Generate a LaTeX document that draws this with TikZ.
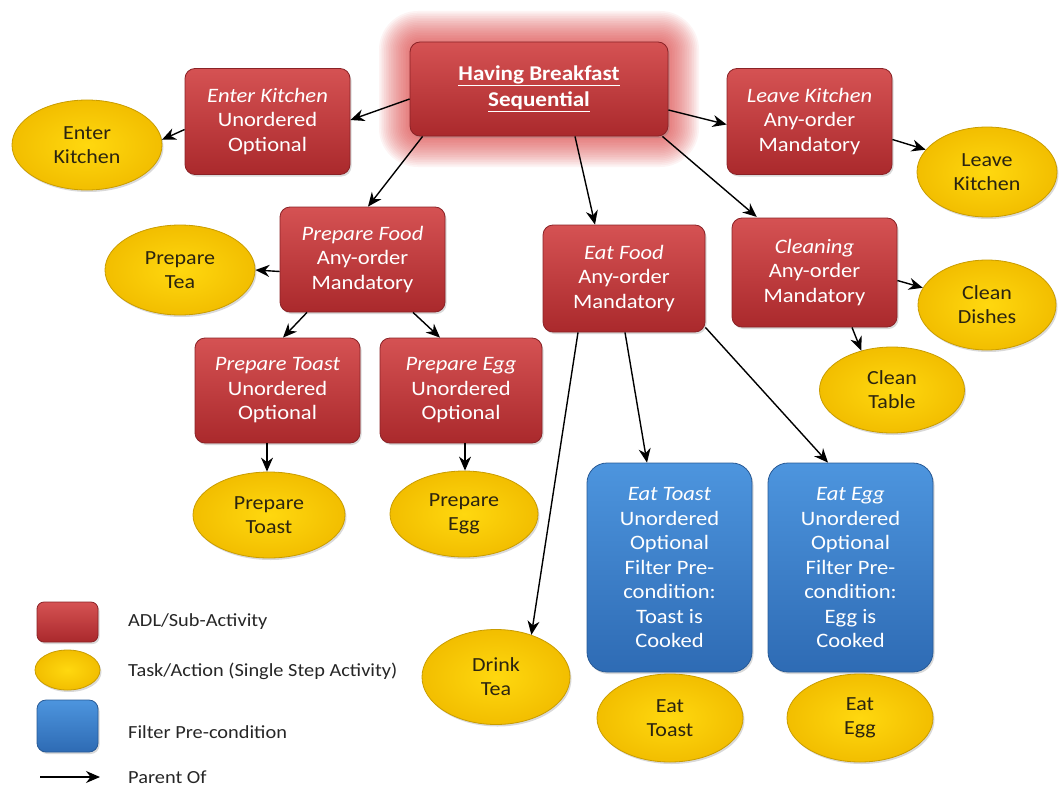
\documentclass[tikz,border=0pt]{standalone}
\usepackage{fontspec}
\setmainfont{Carlito}[FakeStretch=1.1]
\usetikzlibrary{arrows.meta,shapes.geometric,shadows,backgrounds}

\definecolor{adltop}{HTML}{D55253}
\definecolor{adlbot}{HTML}{AA292C}
\definecolor{adledge}{HTML}{8A2226}
\definecolor{tasktop}{HTML}{FFD80F}
\definecolor{taskbot}{HTML}{F2BE00}
\definecolor{taskedge}{HTML}{C99C00}
\definecolor{filtertop}{HTML}{4D95DE}
\definecolor{filterbot}{HTML}{2E6BB4}
\definecolor{filteredge}{HTML}{285A96}
\definecolor{glowred}{HTML}{D83A3A}
\definecolor{tasktext}{HTML}{2B2410}

\begin{document}
\begin{tikzpicture}[x=1pt,y=-1pt,
  every node/.style={font=\fontsize{20}{24}\selectfont, align=center, inner sep=0pt},
  boxfont/.style={font=\fontsize{20.5}{24.5}\selectfont},
  softshadow/.style={drop shadow={shadow xshift=1.5pt, shadow yshift=-2pt, opacity=0.3}},
  adl/.style={rectangle, rounded corners=10pt, minimum width=165pt, minimum height=106pt,
    top color=adltop, bottom color=adlbot, draw=adledge, line width=0.8pt,
    text=white, boxfont, softshadow},
  task/.style={ellipse, minimum width=148pt, minimum height=88pt,
    inner color=tasktop, outer color=taskbot, draw=taskedge, line width=0.8pt,
    text=tasktext, softshadow},
  filter/.style={rectangle, rounded corners=20pt, minimum width=165pt, minimum height=209pt,
    top color=filtertop, bottom color=filterbot, draw=filteredge, line width=0.8pt,
    text=white, boxfont, softshadow},
  legendtext/.style={anchor=west, font=\fontsize{18.5}{22}\selectfont, text=black!85},
  parent/.style={-{Stealth[length=14pt,width=12pt]}, line width=1.4pt, black},
]
\useasboundingbox (0,0) rectangle (1059,789);

% root activity
\node[adl, minimum width=258pt, minimum height=94pt, font=\fontsize{21}{26}\selectfont\bfseries]
  (hb) at (539,89) {\underline{Having Breakfast}\\\underline{Sequential}};

% sub-activities
\node[adl] (ek) at (267.5,121.5) {\textit{Enter Kitchen}\\Unordered\\Optional};
\node[adl] (lk) at (809.5,121.5) {\textit{Leave Kitchen}\\Any-order\\Mandatory};
\node[adl, minimum height=105pt] (pf) at (362.5,259.5) {\textit{Prepare Food}\\Any-order\\Mandatory};
\node[adl, minimum width=162pt, minimum height=107pt] (ef) at (624,278.5) {\textit{Eat Food}\\Any-order\\Mandatory};
\node[adl, minimum height=109pt] (cl) at (814.5,272.5) {\textit{Cleaning}\\Any-order\\Mandatory};
\node[adl, minimum height=105pt] (ptb) at (277.5,390.5) {\textit{Prepare Toast}\\Unordered\\Optional};
\node[adl, minimum width=162pt, minimum height=105pt] (peb) at (461,390.5) {\textit{Prepare Egg}\\Unordered\\Optional};

% filtered activities
\node[filter] (et) at (669.5,567.5) {\textit{Eat Toast}\\Unordered\\Optional\\Filter Pre-\\condition:\\Toast is\\Cooked};
\node[filter] (ee) at (850.5,567.5) {\textit{Eat Egg}\\Unordered\\Optional\\Filter Pre-\\condition:\\Egg is\\Cooked};

% single-step tasks
\node[task, minimum width=150pt, minimum height=90pt] (eke) at (87,145) {Enter\\Kitchen};
\node[task, minimum width=140pt, minimum height=90pt] (lke) at (987,172) {Leave\\Kitchen};
\node[task, minimum width=150pt, minimum height=90pt] (pte) at (180,270) {Prepare\\Tea};
\node[task, minimum width=138pt, minimum height=90pt] (cde) at (987,305) {Clean\\Dishes};
\node[task, minimum width=145pt, minimum height=86pt] (cte) at (892,390) {Clean\\Table};
\node[task, minimum width=152pt, minimum height=86pt] (pto) at (269,515) {Prepare\\Toast};
\node[task, minimum width=148pt, minimum height=86pt] (peg) at (464,514) {Prepare\\Egg};
\node[task, minimum width=148pt, minimum height=95pt] (dte) at (496,677) {Drink\\Tea};
\node[task, minimum width=146pt, minimum height=88pt] (ete) at (670,718) {Eat\\Toast};
\node[task, minimum width=146pt, minimum height=88pt] (eee) at (860,718) {Eat\\Egg};

% soft red glow behind the root activity
\begin{scope}[on background layer]
  \foreach \i in {1,...,18} {
    \fill[glowred, opacity=0.055, rounded corners={10pt+\i*1.6pt}]
      ([shift={(-\i*1.7pt,\i*1.7pt)}]hb.north west) rectangle ([shift={(\i*1.7pt,-\i*1.7pt)}]hb.south east);
  }
\end{scope}

% parent-of connectors
\draw[parent] ([yshift=-10pt]hb.west) -- ([yshift=1.5pt]ek.east);
\draw[parent] ([yshift=-21pt]hb.east) -- ([yshift=-3pt]lk.west);
\draw[parent] ([xshift=13pt]hb.south west) -- ([xshift=5.5pt]pf.north);
\draw[parent] ([xshift=36pt]hb.south) -- ([xshift=-29pt]ef.north);
\draw[parent, shorten >=1pt] ([xshift=-6pt]hb.south east) -- ([xshift=-57pt]cl.north);
\draw[parent] ([yshift=-8pt]ek.west) -- (eke.4);
\draw[parent] ([yshift=-18pt]lk.east) -- (lke.160);
\draw[parent] ([yshift=-12pt]pf.west) -- (pte.east);
\draw[parent] ([xshift=-55.5pt]pf.south) -- ([xshift=5.5pt]ptb.north);
\draw[parent] ([xshift=50.5pt]pf.south) -- ([xshift=-21pt]peb.north);
\draw[parent] ([xshift=-10.5pt]ptb.south) -- ([xshift=-2pt]pto.north);
\draw[parent] ([xshift=4pt]peb.south) -- ([xshift=1pt]peg.north);
\draw[parent] ([xshift=-46pt]ef.south) -- (dte.50);
\draw[parent] ([xshift=1pt]ef.south) -- ([xshift=-22.5pt]et.north);
\draw[parent] ([yshift=5pt]ef.south east) -- ([xshift=-22.5pt]ee.north);
\draw[parent] ([yshift=-8pt]cl.east) -- (cde.165);
\draw[parent] ([xshift=37.5pt]cl.south) -- (cte.128);

% legend
\node[adl, minimum width=61pt, minimum height=40pt, rounded corners=7pt] (legadl) at (67.5,622) {};
\node[task, minimum width=65pt, minimum height=40pt] (legtask) at (67.5,670) {};
\node[filter, minimum width=61pt, minimum height=52pt, rounded corners=9pt] (legfilter) at (67.5,726) {};
\coordinate (legfrom) at (40,777);
\coordinate (legto) at (100,777);
\draw[parent, line width=1.2pt] (legfrom) -- (legto);
\node[legendtext] (ladl) at (128,622) {ADL/Sub-Activity};
\node[legendtext] (ltask) at (128,671) {Task/Action (Single Step Activity)};
\node[legendtext] (lfilter) at (128,732) {Filter Pre-condition};
\node[legendtext] (lparent) at (128,777) {Parent Of};
\end{tikzpicture}
\end{document}
